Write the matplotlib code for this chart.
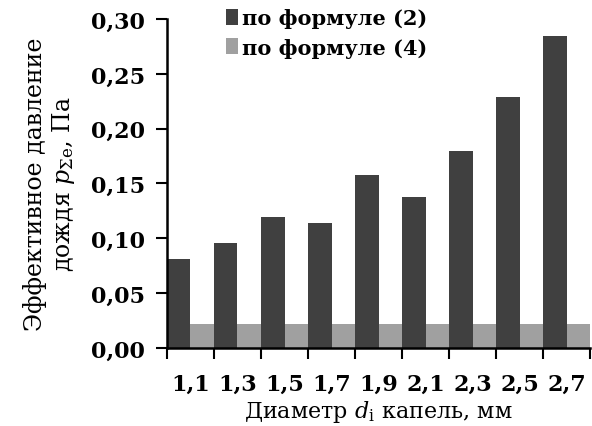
import matplotlib
matplotlib.use("Agg")
import matplotlib.pyplot as plt
import numpy as np

# drop diameter (mm) and effective rain pressure (Pa)
diameters = ["1,1", "1,3", "1,5", "1,7", "1,9", "2,1", "2,3", "2,5", "2,7"]
p_formula2 = [0.081, 0.096, 0.119, 0.114, 0.158, 0.138, 0.180, 0.229, 0.285]
p_formula4 = [0.022, 0.022, 0.022, 0.022, 0.022, 0.022, 0.022, 0.022, 0.022]
yticks = [0.00, 0.05, 0.10, 0.15, 0.20, 0.25, 0.30]

C_DARK, C_LIGHT = "#404040", "#a0a0a0"

plt.rcParams.update({
    "font.family": "DejaVu Serif",
    "mathtext.fontset": "dejavuserif",
})

fig = plt.figure(figsize=(5.92, 4.27), dpi=100)
ax = fig.add_axes([0.282, 0.183, 0.715, 0.770])

x = np.arange(len(diameters))
w = 0.5
ax.bar(x - w / 2, p_formula2, width=w, color=C_DARK, label="по формуле (2)")
ax.bar(x + w / 2, p_formula4, width=w, color=C_LIGHT, label="по формуле (4)")

ax.set_xlim(-0.5, len(diameters) - 0.5)
ax.set_ylim(0, 0.30)
ax.set_yticks(yticks)
ax.set_yticklabels([f"{v:.2f}".replace(".", ",") for v in yticks],
                   fontsize=16, fontweight="bold")

# labels centred on categories, tick marks on boundaries
ax.set_xticks(x)
ax.set_xticklabels(diameters, fontsize=16, fontweight="bold")
ax.tick_params(axis="x", which="major", length=0, pad=18)
ax.set_xticks(np.arange(-0.5, len(diameters)), minor=True)
ax.tick_params(axis="x", which="minor", length=8, width=1.5, direction="out")
ax.tick_params(axis="y", length=8, width=1.5, direction="out", pad=8)

for s in ("top", "right"):
    ax.spines[s].set_visible(False)
for s in ("left", "bottom"):
    ax.spines[s].set_linewidth(1.8)

ax.set_xlabel(r"Диаметр $d_{\mathrm{i}}$ капель, мм", fontsize=16, labelpad=2)
ax.set_ylabel("Эффективное давление\n" + r"дождя $p_{\Sigma\mathrm{e}}$, Па",
              fontsize=17, labelpad=10, linespacing=1.15)

ax.legend(loc="upper left", bbox_to_anchor=(0.095, 1.09), frameon=False,
          prop={"size": 15, "weight": "bold"}, handlelength=0.6,
          handleheight=0.8, handletextpad=0.15, labelspacing=0.45)

fig.savefig("out.png", dpi=100)
